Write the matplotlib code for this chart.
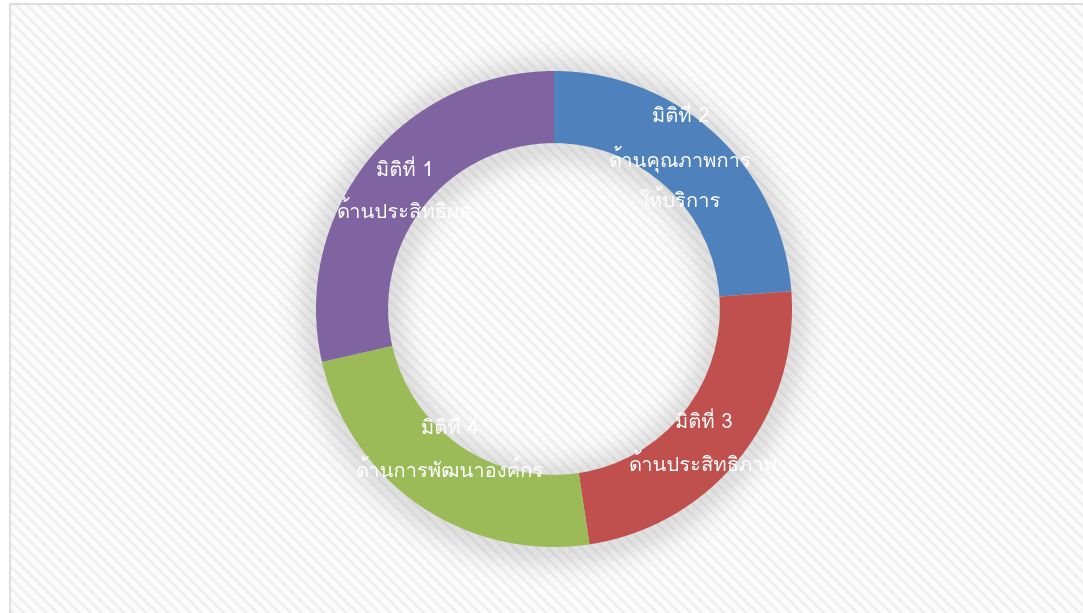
import matplotlib
matplotlib.use("Agg")
import matplotlib.pyplot as plt
import numpy as np
from matplotlib.patches import Rectangle

# data, in the order the slices run clockwise from 12 o'clock
values = [25, 25, 25, 30]
titles = ["มิติที่ 2", "มิติที่ 3", "มิติที่ 4", "มิติที่ 1"]
subtitles = [["ด้านคุณภาพการ", "ให้บริการ"],
             ["ด้านประสิทธิภาพ"],
             ["ด้านการพัฒนาองค์กร"],
             ["ด้านประสิทธิผล"]]
colors = ["#4F81BD", "#C0504D", "#9BBB59", "#8064A2"]
# small label nudges in pixels (dx, dy up)
nudges = [(-8, 6), (-5, -11), (7, 23), (5, -5)]

plt.rcParams["hatch.linewidth"] = 1.8

W, H = 1083, 613
fig = plt.figure(figsize=(W / 100, H / 100), dpi=100)
fig.patch.set_facecolor("white")

# chart area: diagonal stripes, then the thin frame
frame = (10 / W, -0.1), 1.2, (H - 4) / H + 0.1
stripes = Rectangle(*frame, transform=fig.transFigure, facecolor="#fcfcfc",
                    edgecolor="#efefef", linewidth=0, hatch="\\\\\\", zorder=0)
fig.add_artist(stripes)
border = Rectangle(*frame, transform=fig.transFigure, facecolor="none",
                   edgecolor="#d9d9d9", linewidth=1.2, zorder=0.5)
fig.add_artist(border)

cx, cy, R = 554, 309, 238
half = 300
ax = fig.add_axes([(cx - half) / W, (H - cy - half) / H, 2 * half / W, 2 * half / H])
lim = half / R
ax.axis("off")
ax.patch.set_alpha(0)

hole = 0.697
wedges, _ = ax.pie(values, colors=colors, startangle=90, counterclock=False,
                   radius=1, wedgeprops=dict(width=1 - hole, edgecolor="none"))
for w in wedges:
    w.set_zorder(2)

# soft shadow round the ring
g = np.linspace(-lim, lim, 700)
X, Y = np.meshgrid(g, g)
r = np.hypot(X, Y + 0.015)
d = np.maximum(np.maximum(r - 1, hole - r), 0)
a = 0.16 * np.exp(-(d / 0.085) ** 2)
img = np.zeros(X.shape + (4,))
img[..., :3] = 0.3
img[..., 3] = a
ax.imshow(img, extent=(-lim, lim, -lim, lim), origin="lower", zorder=1)

ax.set_xlim(-lim, lim)
ax.set_ylim(-lim, lim)
ax.set_aspect("equal")

total = sum(values)
start = 90.0
for i, v in enumerate(values):
    span = 360.0 * v / total
    mid = np.deg2rad(start - span / 2)
    start -= span
    lr = 0.83
    x, y = lr * np.cos(mid), lr * np.sin(mid)
    lines = [titles[i]] + subtitles[i]
    n = len(lines)
    for k, line in enumerate(lines):
        off = (n - 1) / 2 * 42 - k * 42
        ax.annotate(line, (x, y), xytext=(nudges[i][0] * 0.72, (nudges[i][1] + off) * 0.72),
                    textcoords="offset points", ha="center", va="center",
                    color="white", fontsize=14.5,
                    family=["Loma", "DejaVu Sans"], zorder=5, annotation_clip=False)

fig.savefig("out.png", dpi=100)
